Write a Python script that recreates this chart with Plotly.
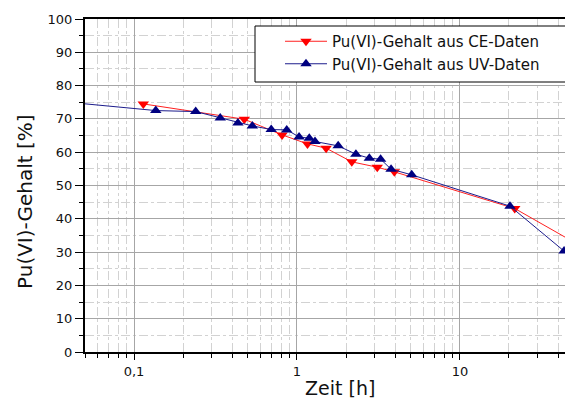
import plotly.graph_objects as go
import math

# CE data (red, down triangles)
ce_time = [0.114, 0.475, 0.81, 1.16, 1.51, 2.17, 3.11, 3.96, 21.7, 48.0]
ce_pu6 = [74.5, 69.9, 65.2, 62.5, 61.2, 57.1, 55.5, 54.1, 43.1, 33.5]

# UV data (blue, up triangles)
uv_time = [0.017, 0.136, 0.239, 0.338, 0.434, 0.532, 0.695, 0.865, 1.03, 1.19,
           1.29, 1.79, 2.30, 2.78, 3.26, 3.78, 5.06, 20.3, 43.6]
uv_pu6 = [76.7, 72.5, 72.2, 70.3, 68.8, 67.9, 66.8, 66.7, 64.6, 64.2,
          63.2, 61.9, 59.4, 58.2, 57.9, 54.9, 53.2, 43.8, 30.3]

ce_name = "Pu(VI)-Gehalt aus CE-Daten"
uv_name = "Pu(VI)-Gehalt aus UV-Daten"
x_title = "Zeit [h]"
y_title = "Pu(VI)-Gehalt [%]"

fig = go.Figure()
fig.add_trace(go.Scatter(
    x=ce_time, y=ce_pu6, name=ce_name, mode="lines+markers",
    line=dict(color="#ff2020", width=1),
    marker=dict(symbol="triangle-down", size=10, color="#ff0000"),
))
fig.add_trace(go.Scatter(
    x=uv_time, y=uv_pu6, name=uv_name, mode="lines+markers",
    line=dict(color="#1c1c8c", width=1),
    marker=dict(symbol="triangle-up", size=10, color="#000080"),
))

L, R, T, B = 85, 0, 19, 49
W, H = 565, 401
pw = W - L - R
ph = H - T - B

major_grid = "#a6a6a6"
minor_grid = "#d2d2d2"

fig.update_layout(
    width=W, height=H,
    margin=dict(l=L, r=R, t=T, b=B),
    paper_bgcolor="white", plot_bgcolor="white",
    font=dict(family="DejaVu Sans", size=13, color="#111111"),
    separators=",.",
    showlegend=True,
    legend=dict(
        x=(280 - L) / pw, y=(H - B - 25) / ph, xanchor="left", yanchor="top",
        bgcolor="rgba(0,0,0,0)", borderwidth=0,
        font=dict(family="DejaVu Sans", size=15, color="#111111"),
        tracegroupgap=0, itemwidth=42,
    ),
    shapes=[dict(
        type="rect", xref="paper", yref="paper", layer="above",
        x0=(255 - L) / pw, x1=1.1,
        y0=(H - B - 82) / ph, y1=(H - B - 26) / ph,
        fillcolor="white", line=dict(color="black", width=1),
    )],
    annotations=[
        dict(
            text=y_title, xref="paper", yref="paper",
            x=(25 - L) / pw, y=(H - B - 202) / ph,
            xanchor="center", yanchor="middle", textangle=-90, showarrow=False,
            font=dict(size=20, family="DejaVu Sans", color="#111111"),
        ),
        dict(
            text=x_title, xref="paper", yref="paper",
            x=(340 - L) / pw, y=(H - B - 388) / ph,
            xanchor="center", yanchor="middle", showarrow=False,
            font=dict(size=19, family="DejaVu Sans", color="#111111"),
        ),
    ],
)

fig.update_xaxes(
    type="log",
    range=[math.log10(0.05), 1.645],
    dtick=1,
    showline=True, linecolor="black", linewidth=2, mirror=True,
    ticks="outside", ticklen=6, tickcolor="black", tickwidth=1,
    showgrid=True, gridcolor=major_grid, gridwidth=1,
    minor=dict(dtick="D1", ticks="outside", ticklen=4, tickcolor="black",
               showgrid=True, gridcolor=minor_grid, griddash="dashdot", gridwidth=1),
    zeroline=False,
    tickfont=dict(size=13),
)
fig.update_yaxes(
    range=[0, 100],
    dtick=10,
    showline=True, linecolor="black", linewidth=2,
    ticks="outside", ticklen=8, tickcolor="black", tickwidth=1,
    showgrid=True, gridcolor=major_grid, gridwidth=1,
    minor=dict(dtick=5, ticks="outside", ticklen=4, tickcolor="black",
               showgrid=True, gridcolor=minor_grid, griddash="dashdot", gridwidth=1),
    zeroline=False,
    tickfont=dict(size=13),
)

fig.write_html("out.html", config={"displayModeBar": False},
               post_script="document.body.style.margin='0px';")
